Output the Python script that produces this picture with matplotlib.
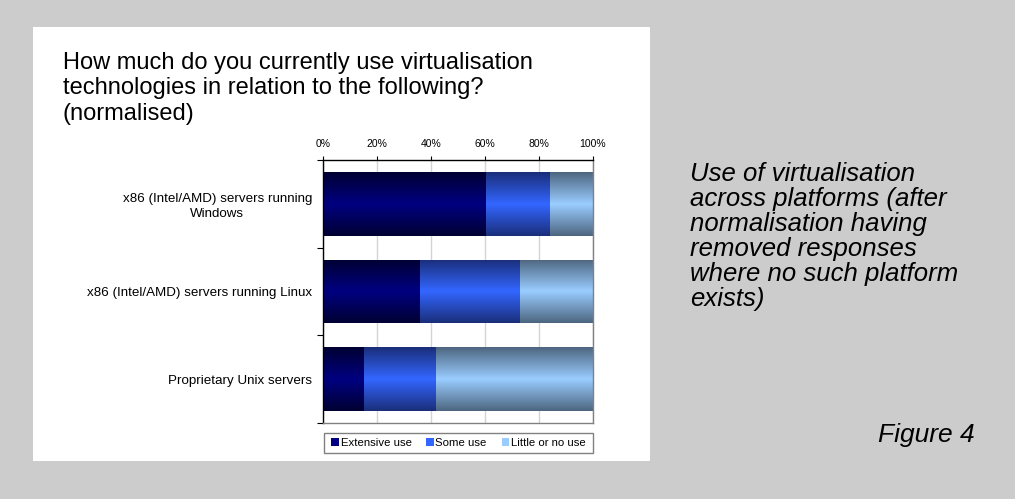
import matplotlib
matplotlib.use("Agg")
import matplotlib.pyplot as plt
import numpy as np
from matplotlib.patches import Rectangle, Patch
from matplotlib.colors import LinearSegmentedColormap

plt.rcParams['font.family'] = ['Liberation Sans', 'DejaVu Sans']

categories = ["x86 (Intel/AMD) servers running\nWindows",
              "x86 (Intel/AMD) servers running Linux",
              "Proprietary Unix servers"]
series_names = ["Extensive use", "Some use", "Little or no use"]
extensive = [60.5, 36, 15]
some = [23.5, 37, 27]
little = [16, 27, 58]
x_ticks = [0, 20, 40, 60, 80, 100]
x_tick_labels = ["0%", "20%", "40%", "60%", "80%", "100%"]

center_colors = ["#000080", "#3366ff", "#99ccff"]
edge_colors = ["#000033", "#1a2e7a", "#4d6680"]

W, H = 1015, 499
fig = plt.figure(figsize=(W / 100, H / 100), dpi=100)
fig.patch.set_facecolor("#cccccc")

# white panel
fig.patches.append(Rectangle((33 / W, 1 - 461 / H), (650 - 33) / W, (461 - 27) / H,
                             transform=fig.transFigure, facecolor="white",
                             edgecolor="none", zorder=0))
# legend frame
fig.patches.append(Rectangle((324 / W, 1 - 453 / H), 269 / W, 20 / H,
                             transform=fig.transFigure, facecolor="white",
                             edgecolor="#808080", lw=1, zorder=1))

ax = fig.add_axes([323 / W, 1 - 423 / H, 270 / W, 263 / H])
ax.set_zorder(3)
ax.set_facecolor("white")

y = np.arange(len(categories))
series = [extensive, some, little]
left = np.zeros(len(categories))
bar_h = 0.73
grad = np.concatenate([np.linspace(0, 1, 50), np.linspace(1, 0, 50)]).reshape(-1, 1)
for vals, cc, ec in zip(series, center_colors, edge_colors):
    bars = ax.barh(y, vals, left=left, height=bar_h, color="none", edgecolor="none", zorder=2)
    cmap = LinearSegmentedColormap.from_list("g", [ec, cc])
    for b in bars:
        x0, y0, w, h = b.get_x(), b.get_y(), b.get_width(), b.get_height()
        im = ax.imshow(grad, cmap=cmap, aspect="auto", extent=[x0, x0 + w, y0 + h, y0],
                       zorder=2, interpolation="bilinear")
        im.set_clip_path(b)
    left = left + np.array(vals)

ax.set_xlim(0, 100)
ax.set_ylim(len(categories) - 0.5, -0.5)
ax.set_xticks(x_ticks)
ax.set_xticklabels(x_tick_labels)
ax.xaxis.tick_top()
ax.tick_params(axis="x", which="major", labelsize=7.5, length=3, width=0.8, pad=5, color="black")
ax.grid(axis="x", color="#d4d4d4", lw=1, zorder=1)
ax.set_axisbelow(True)

ax.set_yticks(np.arange(len(categories) + 1) - 0.5)
ax.set_yticklabels([])
ax.tick_params(axis="y", which="major", length=4, width=0.8, color="black")
ax.set_yticks(y, minor=True)
ax.set_yticklabels(categories, minor=True, fontsize=9.6, multialignment="center",
                   linespacing=1.3)
ax.tick_params(axis="y", which="minor", length=0, pad=8)

ax.spines["left"].set_color("black")
ax.spines["top"].set_color("black")
ax.spines["right"].set_color("#808080")
ax.spines["bottom"].set_color("#808080")
for s in ax.spines.values():
    s.set_linewidth(1)

handles = [Patch(facecolor=c, edgecolor="none") for c in center_colors]
leg = fig.legend(handles, series_names, loc="center",
                 bbox_to_anchor=(324 / W, 1 - 453 / H, 269 / W, 20 / H),
                 ncol=3, fontsize=8.2, frameon=False,
                 handlelength=0.65, handleheight=0.65, handletextpad=0.15,
                 columnspacing=1.3, borderpad=0.2)
leg.set_zorder(4)

fig.text(63 / W, 1 - 52 / H,
         "How much do you currently use virtualisation\ntechnologies in relation to the following?\n(normalised)",
         fontsize=17, va="top", ha="left", linespacing=1.2)

fig.text(690 / W, 1 - 162 / H,
         "Use of virtualisation\nacross platforms (after\nnormalisation having\nremoved responses\nwhere no such platform\nexists)",
         fontsize=18.5, style="italic", va="top", ha="left", linespacing=1.05)

fig.text(975 / W, 1 - 442 / H, "Figure 4", fontsize=19, style="italic", ha="right", va="baseline")

fig.savefig("out.png", dpi=100, facecolor=fig.get_facecolor())
